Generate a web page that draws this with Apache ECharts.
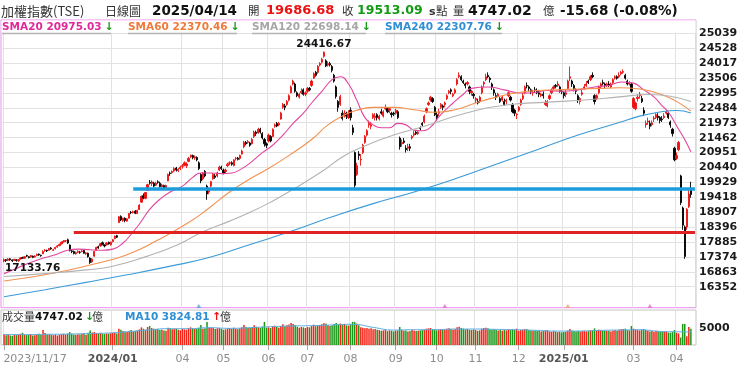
<!DOCTYPE html>
<html><head><meta charset="utf-8">
<script src="https://cdn.jsdelivr.net/npm/echarts@6/dist/echarts.min.js"></script>
<style>html,body{margin:0;padding:0;background:#fff}#c{width:740px;height:367px}</style>
</head><body><div id="c"></div>
<script>
// ---------- DATA ----------
const monthDays = [
 ['2023/11','17 20 21 22 23 24 27 28 29 30'],
 ['2023/12','1 4 5 6 7 8 11 12 13 14 15 18 19 20 21 22 25 26 27 28 29'],
 ['2024/01','2 3 4 5 8 9 10 11 12 15 16 17 18 19 22 23 24 25 26 29 30 31'],
 ['2024/02','1 2 5 15 16 19 20 21 22 23 26 27 29'],
 ['2024/03','1 4 5 6 7 8 11 12 13 14 15 18 19 20 21 22 25 26 27 28 29'],
 ['2024/04','1 2 3 8 9 10 11 12 15 16 17 18 19 22 23 24 25 26 29 30'],
 ['2024/05','2 3 6 7 8 9 10 13 14 15 16 17 20 21 22 23 24 27 28 29 30 31'],
 ['2024/06','3 4 5 6 7 11 12 13 14 17 18 19 20 21 24 25 26 27 28'],
 ['2024/07','1 2 3 4 5 8 9 10 11 12 15 16 17 18 19 22 23 26 29 30 31'],
 ['2024/08','1 2 5 6 7 8 9 12 13 14 15 16 19 20 21 22 23 26 27 28 29 30'],
 ['2024/09','2 3 4 5 6 9 10 11 12 13 16 18 19 20 23 24 25 26 27 30'],
 ['2024/10','1 4 7 8 9 11 14 15 16 17 18 21 22 23 24 25 28 29 30'],
 ['2024/11','1 4 5 6 7 8 11 12 13 14 15 18 19 20 21 22 25 26 27 28 29'],
 ['2024/12','2 3 4 5 6 9 10 11 12 13 16 17 18 19 20 23 24 25 26 27 30 31'],
 ['2025/01','2 3 6 7 8 9 10 13 14 15 16 17 20 21 22'],
 ['2025/02','3 4 5 6 7 10 11 12 13 14 17 18 19 20 21 24 25 26 27'],
 ['2025/03','3 4 5 6 7 10 11 12 13 14 17 18 19 20 21 24 25 26 27 28 31'],
 ['2025/04','1 2 7 8 9 10 11 14']
];

// [open, close, low, high]
const candles = [
[17230,17280,17190,17320],[17280,17250,17200,17300],[17260,17300,17230,17330],[17310,17280,17240,17330],[17270,17240,17200,17290],
[17250,17290,17230,17310],[17280,17250,17210,17300],[17240,17280,17200,17300],[17300,17340,17280,17370],[17350,17330,17300,17380],
[17330,17380,17310,17400],[17420,17400,17370,17450],[17380,17350,17320,17400],[17370,17420,17350,17440],[17400,17360,17330,17420],
[17370,17400,17350,17430],[17420,17460,17400,17490],[17470,17440,17410,17490],[17430,17410,17380,17450],[17480,17560,17470,17600],
[17580,17600,17550,17640],[17600,17580,17540,17620],[17600,17660,17590,17680],[17680,17650,17620,17710],[17600,17620,17580,17650],
[17650,17700,17630,17720],[17710,17750,17690,17780],[17760,17800,17740,17830],[17820,17880,17800,17900],[17890,17910,17860,17950],
[17920,17930,17880,17950],
[17960,17850,17820,18000],[17780,17590,17560,17800],[17580,17560,17500,17620],[17560,17490,17460,17590],[17480,17520,17450,17560],
[17530,17560,17500,17600],[17540,17530,17480,17580],[17560,17580,17530,17620],[17590,17500,17480,17610],[17480,17510,17440,17540],
[17500,17380,17350,17520],[17330,17180,17133.76,17360],[17200,17300,17170,17330],[17400,17560,17380,17580],[17600,17700,17580,17720],
[17720,17680,17650,17760],[17750,17830,17720,17850],[17860,17800,17770,17900],[17780,17750,17700,17800],[17790,17850,17760,17880],
[17870,17820,17790,17900],[17790,17880,17760,17900],
[17900,17960,17870,17990],[18000,18090,17980,18100],[18100,18050,18020,18130],[18550,18750,18540,18780],[18760,18640,18600,18800],
[18620,18700,18580,18720],[18700,18620,18560,18730],[18600,18680,18580,18700],[18700,18860,18690,18880],[18900,18890,18840,18950],
[18900,18920,18860,18960],[18940,18870,18840,18980],[18860,18970,18840,18990],
[19000,19150,18980,19180],[19250,19450,19230,19480],[19470,19400,19350,19550],[19380,19580,19350,19600],[19650,19850,19640,19880],
[19930,19900,19850,20010],[19890,19940,19800,20000],[19900,19800,19760,19950],[19830,19900,19800,19950],[19950,19930,19880,20000],
[19900,19780,19750,19950],[19780,19840,19750,19880],[19820,19740,19700,19850],[19760,19820,19730,19850],[19980,20200,19970,20230],
[20250,20230,20150,20300],[20260,20300,20220,20340],[20320,20400,20280,20450],[20420,20350,20300,20460],[20330,20380,20280,20420],
[20400,20450,20350,20500],
[20480,20500,20400,20560],[20520,20600,20480,20650],[20500,20560,20420,20620],[20650,20750,20620,20800],[20800,20860,20760,20883],
[20850,20780,20720,20880],[20760,20800,20700,20850],[20780,20700,20650,20820],[20600,20400,20350,20650],[20200,19980,19900,20250],
[20050,20250,20000,20280],[20300,20150,20100,20350],[19800,19530,19330,19850],[19600,19700,19520,19750],[19800,19950,19760,19980],
[20050,20200,20020,20250],[20150,20100,20050,20220],[20150,20250,20100,20300],[20350,20450,20320,20500],[20450,20400,20350,20500],
[20350,20250,20200,20400],[20300,20350,20250,20400],[20500,20550,20450,20600],[20580,20600,20520,20650],[20600,20550,20500,20650],
[20500,20700,20480,20720],[20750,20760,20680,20800],[20760,20720,20680,20800],[20750,20850,20700,20880],[20900,21000,20880,21050],
[21150,21300,21100,21350],[21300,21250,21200,21350],[21300,21320,21250,21380],[21280,21200,21150,21320],[21250,21400,21230,21450],
[21500,21650,21450,21700],[21650,21600,21520,21700],[21620,21750,21600,21800],[21750,21650,21600,21800],[21600,21450,21400,21650],
[21400,21250,21150,21450],[21250,21200,21100,21300],
[21350,21550,21300,21600],[21500,21350,21300,21550],[21500,21750,21480,21780],[21850,21900,21800,21950],[21950,21860,21820,22000],
[21900,21950,21850,22000],[22100,22300,22080,22350],[22500,22600,22450,22650],[22550,22500,22400,22620],[22600,22700,22550,22750],
[22750,22900,22700,22950],[23000,23200,22980,23250],[23300,23400,23250,23450],[23300,23050,23000,23350],[23000,22900,22850,23050],
[22850,22950,22800,23000],[23000,23050,22950,23150],[23100,22950,22900,23150],[22950,23000,22880,23050],
[23050,23150,23000,23200],[23150,23100,23050,23200],[23250,23400,23200,23450],[23500,23650,23480,23700],[23700,23600,23550,23750],
[23700,23900,23650,23950],[23950,24000,23900,24050],[24050,24150,24000,24200],[24250,24390,24200,24416.67],[24100,23920,23880,24150],
[23950,24000,23900,24080],[24000,23950,23900,24060],[23900,23770,23700,23950],[23600,23400,23350,23650],[23200,22870,22800,23250],
[22700,22500,22350,22750],[22600,22870,22550,22930],[22300,22120,22050,22400],[22200,22300,22150,22400],[22300,22200,22100,22350],
[22150,22300,22100,22400],
[22400,22150,22050,22500],[21800,21640,21550,21900],[20950,19830,19662,20990],[20200,20500,20150,20600],[20900,20850,20700,21000],
[20700,20720,20500,20900],[20950,21200,20900,21250],[21300,21500,21250,21550],[21550,21700,21500,21750],[21900,21950,21800,22050],
[21850,21900,21750,22000],[22150,22250,22100,22300],[22150,22200,22050,22300],[22250,22150,22050,22300],[22100,22200,22050,22250],
[22350,22300,22250,22450],[22200,22350,22150,22400],[22450,22500,22400,22600],[22450,22350,22300,22500],[22400,22450,22300,22500],
[22300,22250,22150,22350],[22300,22270,22200,22350],
[22300,22400,22250,22450],[22350,22150,22100,22400],[21450,21150,21050,21500],[21250,21300,21150,21400],[21350,21300,21250,21450],
[21100,21050,20950,21200],[21100,21150,21000,21250],[21150,21100,21000,21250],[21450,21500,21400,21550],[21550,21600,21500,21700],
[21650,21600,21550,21700],[21600,21650,21550,21700],[21800,21780,21700,21850],[21950,21900,21850,22000],[22000,22200,21950,22250],
[22350,22450,22300,22500],[22600,22650,22550,22700],[22750,22850,22700,22900],[22800,22700,22650,22850],[22500,22250,22200,22550],
[22250,22150,22050,22350],[22300,22350,22200,22450],[22500,22600,22450,22650],[22550,22500,22400,22600],[22600,22650,22500,22700],
[22800,22900,22750,22950],[23000,23050,22950,23100],[23100,23050,22950,23150],[22900,22950,22850,23000],[23000,23100,22950,23150],
[23300,23450,23250,23500],[23550,23600,23500,23700],[23550,23450,23400,23600],[23400,23350,23300,23450],[23300,23250,23150,23350],
[23300,23350,23250,23400],[23200,23050,22950,23250],[23000,23050,22900,23100],[22950,22900,22800,23000],
[22750,22800,22650,22850],[22700,22650,22600,22800],[22700,22850,22650,22900],[23000,23200,22950,23250],[23300,23350,23200,23400],
[23450,23550,23400,23650],[23600,23550,23500,23700],[23500,23450,23350,23550],[23300,23200,23100,23350],[23100,23000,22900,23150],
[22900,22850,22750,23000],[22900,22950,22850,23000],[22800,22700,22650,22850],[22750,22850,22700,22900],[22700,22600,22550,22800],
[22700,22750,22600,22800],[22900,23000,22850,23050],[22850,22750,22700,22900],[22600,22350,22300,22650],[22400,22300,22200,22450],
[22250,22260,22100,22300],
[22400,22500,22350,22550],[22600,22750,22550,22800],[22800,22900,22750,23000],[23000,23200,22950,23250],[23250,23230,23150,23350],
[23200,23150,23050,23250],[23100,23050,22950,23150],[23000,23020,22900,23100],[23100,23080,23000,23200],[23050,23000,22950,23150],
[23000,22950,22850,23100],[22900,22950,22850,23000],[22950,22900,22800,23050],[22600,22650,22550,22750],[22550,22700,22500,22750],
[22800,22900,22750,22950],[23000,23100,22950,23150],[23150,23200,23100,23250],[23250,23220,23150,23300],[23250,23300,23200,23400],
[23200,23050,23000,23250],[23050,23035,22950,23100],
[23000,22900,22800,23050],[22950,23000,22850,23100],[23150,23400,23100,23450],[23500,23550,23400,23900],[23400,23300,23200,23450],
[23250,23150,23050,23300],[23100,23050,22950,23150],[22900,22750,22650,22950],[22700,22800,22600,22850],[22950,23000,22900,23100],
[23150,23200,23100,23300],[23250,23300,23200,23400],[23400,23350,23300,23450],[23450,23550,23400,23600],[23600,23550,23500,23700],
[22900,22700,22600,22950],[22800,22900,22750,22950],[23000,23200,22950,23250],[23200,23300,23150,23350],[23350,23320,23250,23450],
[23300,23250,23150,23350],[23250,23300,23200,23350],[23300,23250,23200,23400],[23200,23300,23150,23350],[23350,23450,23300,23500],
[23500,23550,23450,23600],[23550,23500,23450,23600],[23550,23600,23500,23700],[23650,23700,23600,23750],[23700,23730,23650,23800],
[23600,23500,23450,23650],[23400,23300,23250,23450],[23300,23350,23250,23400],[23300,23050,23000,23350],
[22500,22800,22450,22850],[22450,22650,22400,22700],[22800,22850,22700,22950],[22900,22950,22800,23030],[22800,22700,22650,22900],
[22400,22300,22200,22500],[21900,21950,21800,22050],[22000,22030,21900,22150],[21950,21850,21750,22050],[21900,21970,21850,22050],
[22100,22130,22000,22200],[22150,22250,22100,22300],[22200,22150,22050,22300],[22150,22050,21950,22200],[22100,22080,22000,22200],
[22150,22200,22100,22300],[22300,22350,22250,22400],[22300,22150,22100,22350],[22000,21900,21800,22050],[21750,21600,21500,21800],
[21100,20700,20650,21150],
[20750,20850,20700,20950],[21050,21298,21000,21350],[20150,19232,19150,20190],[19050,18459,18300,19100],[18400,17391,17306.97,18450],
[18400,19000.87,18300,19050],[19100,19528.77,19050,19650],[19686.68,19513.09,19400,19950]
];

// volume (億)
const volumes = [
3200,2900,3100,2800,2700,3000,2900,3100,3300,3600,
3100,2900,3000,3200,2800,2900,3100,3300,3000,4400,3500,3100,3200,3000,2900,3100,2800,3000,3200,3300,3100,
3400,3800,3300,3100,3000,3200,3100,3300,3400,3000,3600,4300,3700,3800,3500,3400,3600,3300,3200,3400,3300,3500,
3600,3700,3400,4800,4500,4100,3900,3800,4200,4400,4000,4100,4300,
4600,5200,4800,4500,5300,5600,5000,4800,4600,4700,4400,4500,4300,4200,5100,5000,4600,4700,4800,4500,4300,
4800,4600,4500,5000,5200,4900,4700,4800,5100,5900,4800,4900,6800,5000,5200,5100,4700,4900,5000,4800,
4500,4600,4900,5000,4700,5100,4800,4600,4900,5200,5900,5300,5000,5100,5300,5800,5400,5200,5000,5400,6800,5100,
5200,5000,5400,5700,5300,5100,5600,6100,5500,5800,6000,6500,6200,5900,5400,5100,5300,5200,5000,
5300,5200,5600,6000,5500,5800,5900,6100,6400,6300,5900,5600,5800,6200,6500,6000,6300,5900,6200,5800,5700,
6100,6800,6800,6300,5800,5200,5100,4900,5000,4800,4900,4600,4700,4500,4400,4200,4300,4500,4100,4300,4200,4000,
4200,4300,5300,4500,4200,4300,4000,4100,4400,4300,4100,4200,4300,4400,4500,4800,4900,5000,4700,4600,
4300,4500,4600,4400,4500,4800,4900,4700,4500,4700,5200,5400,5000,4800,4600,4700,4500,4400,4600,
4400,4200,4300,4800,5000,5100,4900,4600,4500,4700,4400,4300,4500,4200,4400,4300,4600,4400,4700,4500,4800,
4200,4400,4500,4700,4600,4400,4300,4200,4300,4100,4200,4000,4100,4300,4400,4000,3900,4100,4000,3800,3900,3700,
3800,3900,4300,4700,4300,4100,4000,4200,4000,4100,4200,4000,4100,4300,4400,
4900,4300,4500,4400,4200,4300,4100,4200,4000,4300,4400,4200,4500,4600,4700,4800,4400,4300,5600,
4800,4600,4400,4300,4500,4700,4400,4200,4000,4100,3900,4200,4100,4000,3800,3900,4000,3700,3600,3800,4400,
3600,3400,2200,6200,6200,2600,5300,4747.02
];

// moving averages: [trading-day index, value]
const sma20 = [[0,16800],[5,16950],[10,17100],[15,17230],[20,17350],[25,17450],[31,17600],[36,17640],[42,17620],[48,17600],[53,17640],
[58,17850],[62,18150],[66,18500],[71,19000],[76,19350],[81,19600],[87,19800],[92,20100],[96,20250],[101,20250],[106,20230],[111,20250],
[116,20400],[121,20650],[126,20950],[131,21200],[136,21550],[141,21950],[146,22300],[150,22650],[155,23050],[160,23450],[164,23550],
[168,23300],[172,22750],[176,22150],[180,21900],[184,21800],[188,21800],[192,21950],[196,21900],[200,21720],[204,21700],[208,21820],
[213,22250],[219,22650],[224,22950],[228,23150],[236,23200],[244,23100],[252,22990],[258,23000],[265,23080],[272,23050],[280,23100],
[288,23200],[295,23250],[301,23370],[307,23330],[312,23100],[317,22860],[321,22550],[324,22340],[329,21750],[332,21400],[335,20975.03]];
const sma60 = [[0,16550],[15,16700],[30,16900],[45,17150],[60,17450],[75,17950],[90,18550],[100,19050],[110,19600],[120,20050],[130,20450],
[140,20900],[150,21400],[158,21900],[165,22200],[172,22400],[180,22500],[190,22500],[200,22420],[210,22330],[220,22420],[230,22650],
[240,22850],[250,23000],[260,23080],[270,23100],[280,23130],[290,23150],[300,23170],[310,23130],[318,23000],[324,22850],[330,22620],[335,22370.46]];
const sma120 = [[0,16700],[20,16800],[40,16930],[53,17050],[70,17400],[85,17800],[96,18200],[110,18600],[120,18900],[130,19250],[140,19650],
[155,20300],[165,20800],[175,21150],[190,21550],[205,21850],[225,22300],[245,22580],[265,22680],[285,22760],[300,22860],[315,22940],
[325,22880],[335,22698.14]];
const sma240 = [[0,16010],[20,16250],[40,16500],[60,16760],[80,17040],[100,17350],[120,17800],[140,18250],[160,18750],[180,19200],
[200,19600],[220,20050],[240,20550],[260,21050],[280,21550],[300,21980],[310,22200],[320,22340],[328,22390],[335,22307.76]];
const volMa10 = [[0,3100],[10,3050],[20,3150],[30,3200],[40,3350],[50,3500],[60,3900],[70,4400],[80,4800],[90,4800],[100,5100],[110,4900],
[120,5100],[130,5400],[140,5600],[150,5700],[160,5900],[170,6100],[180,5200],[190,4400],[200,4500],[210,4500],[220,4700],[230,4700],
[240,4600],[250,4500],[260,4300],[270,4100],[280,4100],[290,4300],[300,4400],[310,4500],[320,4000],[328,3900],[335,3824.81]];

const supportBlue = 19725, supportBlueFrom = 63;
const supportRed = 18203, supportRedFrom = 34;
const eventDays = [95, 215, 275, 315];

const tickDates = ['2023/11/17','2024/02/01','2024/04/01','2024/05/02','2024/06/03','2024/07/01','2024/08/01','2024/09/02','2024/10/01','2024/11/01','2024/12/02','2025/01/02','2025/03/03','2025/04/01'];
const tickTexts = ['2023/11/17','2024/01','04','05','06','07','08','09','10','11','12','2025/01','03','04'];
const priceTicks = [16352,16863,17374,17885,18396,18907,19418,19929,20440,20951,21462,21973,22484,22995,23506,24017,24528,25039];
const volumeTicks = [5000];

// ---------- BUILD ----------
const dates = [];
monthDays.forEach(([m, d]) => d.split(' ').forEach(x => dates.push(m + '/' + String(x).padStart(2, '0'))));
const OFF = 1;
const cats = ['_s'].concat(dates, ['_e1', '_e2']);
const tickSet = new Set(tickDates.map(d => cats.indexOf(d)));
const isTick = (i) => tickSet.has(i);

const UP = '#ee1111', DOWN = '#000000', VUP = '#f42418', VDOWN = '#1a981a';
const candleData = candles.map((c, i) => [i + OFF, c[0], c[1], c[2], c[3]]);
const volData = volumes.map((v, i) => ({ value: [i + OFF, v], itemStyle: { color: candles[i][1] >= candles[i][0] ? VUP : VDOWN } }));
const shift = arr => arr.map(([i, v]) => [i + OFF, v]);

let hiI = 0, loI = 0;
candles.forEach((c, i) => { if (c[3] > candles[hiI][3]) hiI = i; if (c[2] < candles[loI][2]) loI = i; });

const last = candles.length - 1;
const lastC = candles[last], prevClose = candles[last - 1][1];
const chg = lastC[1] - prevClose, pct = chg / prevClose * 100;
const lastOf = a => a[a.length - 1][1].toFixed(2);

const F = '"DejaVu Sans"', CJK = '"Noto Sans CJK TC"';
const txt = (x, y, text, font, fill) => ({ type: 'text', x, y, z: 10, style: { text, font, fill, verticalAlign: 'middle' } });
const legendItem = (x, label, val, color) => ({
  type: 'text', x, y: 27, z: 10,
  style: { text: '{n|' + label + ' ' + val + '}{a|↓}', verticalAlign: 'middle',
    rich: { n: { fill: color, font: 'bold 10.5px ' + F }, a: { fill: '#1a981a', font: 'bold 11px ' + F, padding: [0, 0, 0, 3] } } }
});
const uline = (x1, x2) => ({ type: 'line', z: 9, shape: { x1, y1: 33.5, x2, y2: 33.5 }, style: { stroke: '#b4b4b4', lineWidth: 1.5 } });

const graphic = [
  { type: 'rect', z: 1, shape: { x: 1.5, y: 20.5, width: 694, height: 12 }, style: { fill: '#fff' } },
  txt(1, 11, '加權指數(TSE)', '13px ' + CJK, '#333'),
  txt(105, 11, '日線圖', '12px ' + CJK, '#333'),
  txt(152, 11, dates[last], 'bold 13.5px ' + F, '#111'),
  txt(248, 11, '開', '11.5px ' + CJK, '#333'),
  txt(266, 11, lastC[0].toFixed(2), 'bold 13px ' + F, '#ee1111'),
  txt(342, 11, '收', '11.5px ' + CJK, '#333'),
  txt(357, 11, lastC[1].toFixed(2), 'bold 12.5px ' + F, '#139a13'),
  txt(429, 12, 's', 'bold 11px ' + F, '#333'),
  txt(436, 11, '點', '11.5px ' + CJK, '#333'),
  txt(453, 11, '量', '11px ' + CJK, '#333'),
  txt(468, 11, volumes[last].toFixed(2), 'bold 14px ' + F, '#111'),
  txt(543, 11, '億', '11.5px ' + CJK, '#333'),
  txt(560, 11, chg.toFixed(2) + ' (' + pct.toFixed(2) + '%)', 'bold 13.5px ' + F, '#111'),
  legendItem(2, 'SMA20', lastOf(sma20), '#e0289a'),
  legendItem(128, 'SMA60', lastOf(sma60), '#f07a3a'),
  legendItem(252, 'SMA120', lastOf(sma120), '#a6a6a6'),
  legendItem(385, 'SMA240', lastOf(sma240), '#2f8fd5'),
  uline(2, 111), uline(128, 237), uline(252, 366), uline(385, 502),
  txt(2, 317, '成交量', '11px ' + CJK, '#333'),
  txt(35, 317, volumes[last].toFixed(2), 'bold 10.5px ' + F, '#111'),
  txt(85, 317, '↓', 'bold 11px ' + F, '#1a981a'),
  txt(92, 317, '億', '11px ' + CJK, '#333'),
  txt(125, 317, 'MA10 ' + lastOf(volMa10), 'bold 10.5px ' + F, '#2f8fd5'),
  txt(212, 317, '↑', 'bold 11px ' + F, '#ee1111'),
  txt(220, 317, '億', '11px ' + CJK, '#333')
];
if (candles.length !== dates.length || volumes.length !== dates.length) {
  graphic.push(txt(200, 200, 'LEN ' + candles.length + ' ' + volumes.length + ' ' + dates.length, 'bold 20px ' + F, 'red'));
}

const maLine = (name, data, color, extra) => Object.assign({
  name, type: 'line', xAxisIndex: 0, yAxisIndex: 0, data: shift(data), showSymbol: false, symbol: 'none',
  smooth: 0.5, lineStyle: { width: 1.1, color }, itemStyle: { color }, silent: true, z: 3
}, extra || {});

const option = {
  animation: false,
  backgroundColor: '#fff',
  textStyle: { fontFamily: 'DejaVu Sans' },
  grid: [
    { left: 1, right: 44, top: 20, height: 287.7, show: true, borderColor: '#ec8cec', borderWidth: 1, outerBoundsMode: 'none', containLabel: false },
    { left: 1, right: 44, top: 310, height: 35, show: true, borderColor: '#c4c4c4', borderWidth: 1, outerBoundsMode: 'none', containLabel: false }
  ],
  xAxis: [
    { type: 'category', gridIndex: 0, data: cats, boundaryGap: true,
      axisLine: { show: false }, axisTick: { show: false }, axisLabel: { show: false },
      splitLine: { show: true, interval: isTick, lineStyle: { color: '#e2e2e2', width: 1 } } },
    { type: 'category', gridIndex: 1, data: cats, boundaryGap: true,
      axisLine: { show: false },
      axisTick: { show: true, alignWithLabel: true, interval: isTick, length: 5, lineStyle: { color: '#a8a8a8' } },
      axisLabel: { show: true, interval: isTick, margin: 9, hideOverlap: false,
        formatter: (value) => {
          const k = tickDates.indexOf(value);
          if (k < 0) return '';
          const t = tickTexts[k];
          if (k === 0) return '{f|' + t + '}';
          return t.length > 2 ? '{y|' + t + '}' : '{m|' + t + '}';
        },
        rich: {
          f: { color: '#8c8c8c', fontSize: 11, fontFamily: 'DejaVu Sans', padding: [0, 0, 0, 62] },
          y: { color: '#555', fontSize: 11, fontWeight: 'bold', fontFamily: 'DejaVu Sans' },
          m: { color: '#8c8c8c', fontSize: 11, fontFamily: 'DejaVu Sans' }
        } },
      splitLine: { show: true, interval: isTick, lineStyle: { color: '#e2e2e2', width: 1 } } }
  ],
  yAxis: [
    { type: 'value', gridIndex: 0, position: 'right', min: 15632, max: 25495, scale: true,
      axisLine: { show: false }, axisTick: { show: false, customValues: priceTicks },
      axisLabel: { customValues: priceTicks, formatter: v => String(v), color: '#1a1a1a', fontWeight: 'bold', fontSize: 11, margin: 3, fontFamily: 'DejaVu Sans' },
      splitLine: { show: true, lineStyle: { color: '#e2e2e2', width: 1 } } },
    { type: 'value', gridIndex: 1, position: 'right', min: 0, max: 10300,
      axisLine: { show: false }, axisTick: { show: false, customValues: volumeTicks },
      axisLabel: { customValues: volumeTicks, formatter: v => String(v), color: '#1a1a1a', fontWeight: 'bold', fontSize: 11, margin: 3, fontFamily: 'DejaVu Sans' },
      splitLine: { show: false } }
  ],
  series: [
    { name: 'K', type: 'candlestick', xAxisIndex: 0, yAxisIndex: 0, data: candleData,
      encode: { x: 0, y: [1, 2, 3, 4] }, barWidth: 1.7, silent: true, z: 2,
      itemStyle: { color: UP, color0: DOWN, borderColor: UP, borderColor0: DOWN, borderWidth: 0.9 },
      markPoint: { symbol: 'circle', symbolSize: 0, silent: true,
        data: [
          { coord: [hiI + OFF, candles[hiI][3]], value: candles[hiI][3],
            label: { show: true, position: 'top', distance: 2, formatter: p => p.value.toFixed(2), color: '#111', fontWeight: 'bold', fontSize: 10.5, fontFamily: 'DejaVu Sans' } },
          { coord: [loI + OFF, candles[loI][2]], value: candles[loI][2],
            label: { show: true, position: 'left', distance: 30, offset: [0, 4], formatter: p => p.value.toFixed(2), color: '#111', fontWeight: 'bold', fontSize: 10.5, fontFamily: 'DejaVu Sans' } }
        ] } },
    maLine('SMA20', sma20, '#e3449e'),
    maLine('SMA60', sma60, '#f3904e'),
    maLine('SMA120', sma120, '#b2b2b2'),
    maLine('SMA240', sma240, '#3a9ad8', {
      markLine: { silent: true, symbol: ['none', 'none'], label: { show: false }, z: 5,
        data: [
          [{ coord: [supportBlueFrom + OFF, supportBlue], lineStyle: { color: '#1c9ddb', width: 3.5, type: 'solid' } }, { coord: [cats.length - 1, supportBlue] }],
          [{ coord: [supportRedFrom + OFF, supportRed], lineStyle: { color: '#e02222', width: 3, type: 'solid' } }, { coord: [cats.length - 1, supportRed] }]
        ] } }),
    { name: 'ev', type: 'scatter', xAxisIndex: 0, yAxisIndex: 0, symbol: 'triangle', symbolSize: [5, 4], silent: true, z: 4,
      data: eventDays.map((d, k) => ({ value: [d + OFF, 15690], itemStyle: { color: ['#5aa0e0', '#e070c8', '#f0a070', '#e070c8'][k] } })) },
    { name: 'Vol', type: 'bar', xAxisIndex: 1, yAxisIndex: 1, data: volData, barWidth: 1.5, silent: true },
    { name: 'MA10', type: 'line', xAxisIndex: 1, yAxisIndex: 1, data: shift(volMa10), showSymbol: false, symbol: 'none',
      smooth: 0.5, lineStyle: { width: 1, color: '#5aaee3' }, silent: true, z: 3 }
  ],
  graphic
};

const chart = echarts.init(document.getElementById('c'), null, { renderer: 'canvas', width: 740, height: 367 });
chart.setOption(option);
</script>
</body></html>
